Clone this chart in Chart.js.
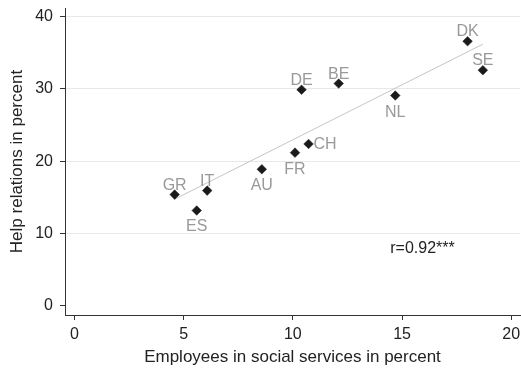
<!DOCTYPE html>
<html lang="en">
<head>
<meta charset="UTF-8" />
<title>Help relations vs employees in social services</title>
<script src="https://cdn.jsdelivr.net/npm/chart.js"></script>
<style>
  html, body { margin: 0; padding: 0; background: #fff; }
  #wrap { width: 521px; height: 368px; position: relative; }
</style>
</head>
<body>
<div id="wrap"><canvas id="scatterChart"></canvas></div>
<script>
// values
const countries = ["GR", "ES", "IT", "AU", "FR", "DE", "CH", "BE", "NL", "DK", "SE"];
const employeesPct = [4.59, 5.6, 6.08, 8.58, 10.1, 10.4, 10.72, 12.1, 14.69, 18.0, 18.7];
const helpPct = [15.4, 13.2, 15.95, 18.9, 21.2, 29.9, 22.4, 30.75, 29.1, 36.6, 32.6];
// fitted line, two ends as seen in the picture
const fitX = [4.59, 18.7];
const fitY = [14.76, 36.2];
const xTicks = [0, 5, 10, 15, 20];
const yTicks = [0, 10, 20, 30, 40];
const corrText = "r=0.92***";

const FONT = "'Liberation Sans', Arial, Helvetica, sans-serif";

// where each country label sits next to its marker
const labelSide = {
    GR: "above", ES: "below", IT: "above", AU: "below", FR: "below",
    DE: "above", CH: "right", BE: "above", NL: "below", DK: "above", SE: "above"
};

const pointLabels = {
    id: "pointLabels",
    afterDatasetsDraw(chart) {
        const ctx = chart.ctx;
        const meta = chart.getDatasetMeta(0);
        ctx.save();
        ctx.font = "16px " + FONT;
        ctx.fillStyle = "#999999";
        meta.data.forEach((pt, i) => {
            const side = labelSide[countries[i]];
            if (side === "above") {
                ctx.textAlign = "center";
                ctx.textBaseline = "alphabetic";
                ctx.fillText(countries[i], pt.x, pt.y - 5);
            } else if (side === "below") {
                ctx.textAlign = "center";
                ctx.textBaseline = "alphabetic";
                ctx.fillText(countries[i], pt.x, pt.y + 21);
            } else {
                ctx.textAlign = "left";
                ctx.textBaseline = "middle";
                ctx.fillText(countries[i], pt.x + 5, pt.y + 1);
            }
        });
        // correlation note
        const xs = chart.scales.x, ys = chart.scales.y;
        ctx.fillStyle = "#222222";
        ctx.textAlign = "left";
        ctx.textBaseline = "middle";
        ctx.fillText(corrText, xs.getPixelForValue(14.46), ys.getPixelForValue(7.9));
        ctx.restore();
    }
};

// keep the plot area where the reference has it
function noPad(s) {
    s.paddingTop = 0;
    s.paddingBottom = 0;
    s.paddingLeft = 0;
    s.paddingRight = 0;
}

const ctx = document.getElementById("scatterChart").getContext("2d");
const chart = new Chart(ctx, {
    type: "scatter",
    data: {
        datasets: [
            {
                label: "Countries",
                data: employeesPct.map((x, i) => ({ x: x, y: helpPct[i] })),
                pointStyle: "rectRot",
                pointRadius: 4.8,
                pointBackgroundColor: "#1a1a1a",
                pointBorderColor: "#1a1a1a",
                pointBorderWidth: 0.5
            },
            {
                label: "Fit",
                data: fitX.map((x, i) => ({ x: x, y: fitY[i] })),
                showLine: true,
                borderColor: "#c4c4c4",
                borderWidth: 1,
                pointRadius: 0
            }
        ]
    },
    options: {
        responsive: true,
        maintainAspectRatio: false,
        animation: false,
        events: [],
        layout: { padding: { top: 8, right: 1, left: 0, bottom: 0 }, autoPadding: false },
        plugins: {
            legend: { display: false },
            tooltip: { enabled: false }
        },
        scales: {
            x: {
                type: "linear",
                min: -0.43,
                max: 20.4,
                afterBuildTicks: (s) => { s.ticks = xTicks.map(v => ({ value: v })); },
                afterFit: (s) => { s.height = 53; noPad(s); },
                grid: { drawOnChartArea: false, tickColor: "#333", tickLength: 5 },
                border: { color: "#333", width: 1 },
                ticks: { color: "#222", font: { family: FONT, size: 16 }, padding: 5, maxRotation: 0 },
                title: {
                    display: true,
                    text: "Employees in social services in percent",
                    color: "#222",
                    font: { family: FONT, size: 17 },
                    padding: { top: 0, bottom: 0 }
                }
            },
            y: {
                type: "linear",
                min: -1.25,
                max: 41.2,
                afterBuildTicks: (s) => { s.ticks = yTicks.map(v => ({ value: v })); },
                afterFit: (s) => { s.width = 65; noPad(s); },
                grid: {
                    color: (c) => (c.tick && c.tick.value === 0 ? "rgba(0,0,0,0)" : "#e8e8e8"),
                    tickColor: "#333",
                    tickLength: 5
                },
                border: { color: "#333", width: 1 },
                ticks: { color: "#222", font: { family: FONT, size: 16 }, padding: 7 },
                title: {
                    display: true,
                    text: "Help relations in percent",
                    color: "#222",
                    font: { family: FONT, size: 17 },
                    padding: { top: 7, bottom: 0 }
                }
            }
        }
    },
    plugins: [pointLabels]
});
</script>
</body>
</html>
